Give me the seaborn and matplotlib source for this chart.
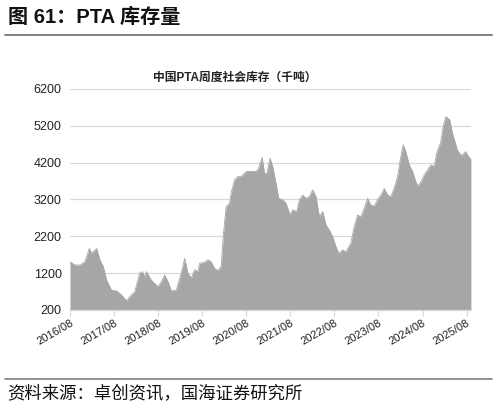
import pandas as pd
import matplotlib
matplotlib.use('Agg')
import matplotlib.pyplot as plt
import matplotlib.dates as mdates
from matplotlib.lines import Line2D
import seaborn as sns

sns.set_theme(style='white')
plt.rcParams['font.family'] = ['Liberation Sans', 'Noto Sans CJK SC', 'DejaVu Sans']
plt.rcParams['axes.unicode_minus'] = False

# 中国PTA周度社会库存（千吨）
dates = [
    '2016-08-01', '2016-09-12', '2016-10-23', '2016-12-03', '2017-01-08', '2017-01-27',
    '2017-03-10', '2017-04-06', '2017-05-04', '2017-05-31', '2017-07-11', '2017-08-21',
    '2017-10-01', '2017-11-12', '2017-12-09', '2018-01-20', '2018-03-02', '2018-03-24',
    '2018-04-12', '2018-04-26', '2018-06-06', '2018-08-01', '2018-08-28', '2018-09-25',
    '2018-10-22', '2018-11-19', '2018-12-30', '2019-02-09', '2019-03-09', '2019-04-05',
    '2019-05-03', '2019-05-30', '2019-06-27', '2019-07-11', '2019-08-21', '2019-09-18',
    '2019-10-15', '2019-11-12', '2019-12-09', '2020-01-06', '2020-01-25', '2020-02-16',
    '2020-03-15', '2020-03-28', '2020-04-25', '2020-05-22', '2020-06-19', '2020-08-01',
    '2020-08-28', '2020-10-09', '2020-11-05', '2020-12-10', '2020-12-30', '2021-01-18',
    '2021-02-14', '2021-03-08', '2021-04-04', '2021-04-26', '2021-05-29', '2021-06-26',
    '2021-07-29', '2021-08-21', '2021-09-23', '2021-10-15', '2021-11-12', '2021-12-09',
    '2022-01-06', '2022-02-02', '2022-03-02', '2022-03-29', '2022-04-26', '2022-05-23',
    '2022-06-20', '2022-07-17', '2022-08-14', '2022-09-05', '2022-10-08', '2022-11-04',
    '2022-12-15', '2023-01-12', '2023-02-09', '2023-03-09', '2023-04-05', '2023-05-03',
    '2023-05-30', '2023-06-27', '2023-07-24', '2023-08-21', '2023-09-18', '2023-10-15',
    '2023-11-12', '2023-12-09', '2024-01-06', '2024-02-02', '2024-02-22', '2024-03-15',
    '2024-04-12', '2024-05-10', '2024-06-01', '2024-06-23', '2024-07-18', '2024-08-15',
    '2024-09-11', '2024-10-09', '2024-11-05', '2024-11-25', '2024-12-30', '2025-01-18',
    '2025-02-09', '2025-03-14', '2025-04-05', '2025-05-16', '2025-06-13', '2025-06-27',
    '2025-07-24', '2025-08-21', '2025-09-05',
]
stock = [
    1510, 1420, 1420, 1510, 1870, 1740,
    1870, 1560, 1380, 1010, 740, 720,
    610, 450, 560, 700, 1200, 1240,
    1100, 1240, 1010, 830, 970, 1150,
    970, 720, 740, 1200, 1600, 1200,
    1060, 1290, 1240, 1470, 1490, 1560,
    1510, 1330, 1270, 1380, 2280, 3000,
    3100, 3370, 3730, 3820, 3820, 3960,
    3960, 3960, 4000, 4340, 3910, 3910,
    4320, 4090, 3640, 3230, 3190, 3100,
    2780, 2920, 2870, 3190, 3320, 3230,
    3280, 3460, 3280, 2730, 2870, 2510,
    2370, 2190, 1920, 1740, 1830, 1780,
    2010, 2460, 2780, 2730, 2960, 3230,
    3050, 3020, 3190, 3320, 3500, 3320,
    3280, 3500, 3820, 4360, 4680, 4500,
    4140, 3960, 3730, 3550, 3680, 3870,
    4000, 4140, 4090, 4450, 4770, 5180,
    5450, 5360, 5000, 4540, 4410, 4410,
    4500, 4340, 4300,
]
yticks = [200, 1200, 2200, 3200, 4200, 5200, 6200]
xtick_dates = ['2016-08-01', '2017-08-01', '2018-08-01', '2019-08-01', '2020-08-01',
               '2021-08-01', '2022-08-01', '2023-08-01', '2024-08-01', '2025-08-01']

df = pd.DataFrame({'date': pd.to_datetime(dates), 'stock': stock})

fig = plt.figure(figsize=(4.97, 4.08), dpi=100)
ax = fig.add_axes([0.1408, 0.2402, 0.8069, 0.5417])

fill_color = '#a6a6a6'
ax.fill_between(df['date'], 200, df['stock'], color=fill_color, linewidth=0, zorder=2)
sns.lineplot(data=df, x='date', y='stock', ax=ax, color=fill_color, linewidth=0.6, zorder=3)

ax.set_ylim(200, 6200)
ax.set_yticks(yticks)
ax.set_xlim(pd.Timestamp('2016-08-01'), pd.Timestamp('2025-09-06'))
ax.set_xticks(pd.to_datetime(xtick_dates))
ax.xaxis.set_major_formatter(mdates.DateFormatter('%Y/%m'))
ax.set_xlabel('')
ax.set_ylabel('')

ax.grid(axis='y', color='#d9d9d9', linewidth=0.9, zorder=1)
ax.grid(axis='x', visible=False)
for side in ['left', 'right', 'top']:
    ax.spines[side].set_visible(False)
ax.spines['bottom'].set_color('#d9d9d9')
ax.spines['bottom'].set_linewidth(0.9)
ax.spines['bottom'].set_zorder(4)

ax.tick_params(axis='y', length=0, pad=6, labelsize=9, labelcolor='#222222')
ax.tick_params(axis='x', length=4, width=0.9, color='#d9d9d9', pad=2,
               labelsize=8, labelcolor='#222222', bottom=True)
for lab in ax.get_xticklabels():
    lab.set_rotation(30)
    lab.set_ha('right')
    lab.set_rotation_mode('anchor')

ax.set_title('中国PTA周度社会库存（千吨）', fontsize=8.5, fontweight='bold',
             color='#222222', pad=6, x=0.41)

fig.text(0.016, 0.958, '图 61：PTA 库存量', fontsize=14.5, fontweight='bold',
         ha='left', va='center', color='#111111')
fig.add_artist(Line2D([0.01, 0.99], [0.914, 0.914], color='#808080', linewidth=1.4,
                      transform=fig.transFigure))
fig.add_artist(Line2D([0.01, 0.99], [0.071, 0.071], color='#808080', linewidth=1.2,
                      transform=fig.transFigure))
fig.text(0.014, 0.036, '资料来源：卓创资讯，国海证券研究所', fontsize=12.5,
         ha='left', va='center', color='#111111')

fig.savefig('out.png', dpi=100, facecolor='white')
